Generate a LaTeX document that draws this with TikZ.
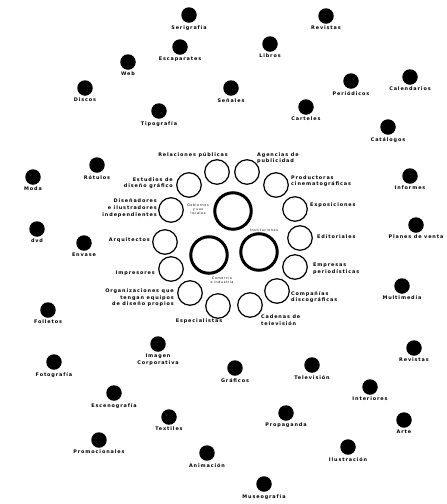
\documentclass[tikz,border=0pt]{standalone}
\usepackage{fontspec}
\setmainfont{DejaVu Sans}
\newfontfamily\lblfont[LetterSpace=18]{DejaVu Sans}
\begin{document}
\begin{tikzpicture}[x=1pt,y=-1pt,
  dot/.style={circle, fill=black, minimum size=15.5pt, inner sep=0pt},
  ring/.style={circle, draw=black, fill=white, line width=1.2pt, minimum size=24.5pt, inner sep=0pt},
  hub/.style={circle, draw=black, fill=white, line width=3pt, minimum size=36.5pt, inner sep=0pt},
  lbl/.style={font=\lblfont\bfseries\fontsize{4.9}{6.6}\selectfont, inner sep=0pt, align=center},
  lblr/.style={lbl, align=right, anchor=east},
  lbll/.style={lbl, align=left, anchor=west},
  tinylbl/.style={font=\lblfont\fontsize{3.3}{4}\selectfont, inner sep=0pt, align=center}]
\useasboundingbox (0,0) rectangle (447,504);
\fill[white] (0,0) rectangle (447,504);

% ---- central hubs
\node[hub] (gob) at (233,211) {};
\node[hub] (com) at (209,255) {};
\node[hub] (ins) at (259,252) {};
\node[tinylbl] (gobl) at (198,209) {Gobiernos\\y sus\\locales};
\node[tinylbl] (insl) at (264,230) {Instituciones};
\node[tinylbl] (coml) at (222,280) {Comercio\\e industria};

% ---- rings
\node[ring] (r1) at (217,172) {};
\node[ring] (r2) at (247,172) {};
\node[ring] (r3) at (276,185) {};
\node[ring] (r4) at (295,209) {};
\node[ring] (r5) at (300,238) {};
\node[ring] (r6) at (295,267) {};
\node[ring] (r7) at (277,291) {};
\node[ring] (r8) at (250,305) {};
\node[ring] (r9) at (218,306) {};
\node[ring] (r10) at (190,293) {};
\node[ring] (r11) at (171,269) {};
\node[ring] (r12) at (165,242) {};
\node[ring] (r13) at (171,210) {};
\node[ring] (r14) at (189,185) {};

\node[lbl] (r1l) at (193,155) {Relaciones públicas};
\node[lbll] (r2l) at (257,158) {Agencias de\\publicidad};
\node[lbll] (r3l) at (291,181) {Productoras\\cinematográficas};
\node[lbll] (r4l) at (310,205) {Exposiciones};
\node[lbll] (r5l) at (317,237) {Editoriales};
\node[lbll] (r6l) at (313,269) {Empresas\\periodísticas};
\node[lbll] (r7l) at (291,297) {Compañías\\discográficas};
\node[lbll] (r8l) at (261,320) {Cadenas de\\televisión};
\node[lbl] (r9l) at (199,321) {Especialistas};
\node[lblr] (r10l) at (174,298) {Organizaciones que\\tengan equipos\\de diseño propios};
\node[lblr] (r11l) at (155,273) {Impresores};
\node[lblr] (r12l) at (150,240) {Arquitectos};
\node[lblr] (r13l) at (157,208) {Diseñadores\\e ilustradores\\independientes};
\node[lblr] (r14l) at (173,183) {Estudios de\\diseño gráfico};

% ---- outer dots
\foreach \n/\x/\y/\t in {
  serigrafia/189/15/Serigrafía,
  escaparates/180/47/Escaparates,
  web/128/62/Web,
  discos/85/88/Discos,
  tipografia/159/111/Tipografía,
  rotulos/97/165/Rótulos,
  moda/33/177/Moda,
  dvd/37/229/dvd,
  envase/84/243/Envase,
  folletos/48/310/Folletos,
  revistasa/326/16/Revistas,
  libros/270/44/Libros,
  senales/231/88/Señales,
  periodicos/351/81/Periódicos,
  calendarios/410/77/Calendarios,
  carteles/306/107/Carteles,
  catalogos/388/127/Catálogos,
  informes/410/176/Informes,
  planes/416/225/Planes de venta,
  multimedia/402/286/Multimedia,
  fotografia/54/362/Fotografía,
  escenografia/114/393/Escenografía,
  textiles/169/417/Textiles,
  promocionales/99/440/Promocionales,
  animacion/207/453/Animación,
  graficos/235/368/Gráficos,
  television/312/365/Televisión,
  revistasb/414/348/Revistas,
  interiores/370/387/Interiores,
  propaganda/286/413/Propaganda,
  arte/404/420/Arte,
  ilustracion/348/447/Ilustración,
  museografia/264/484/Museografía}{
  \node[dot] (\n) at (\x,\y) {};
  \node[lbl, anchor=north] (\n-l) at (\x,\y+10) {\t};
}
\node[dot] (imagen) at (158,344) {};
\node[lbl, anchor=north] (imagen-l) at (158,354) {Imagen\\Corporativa};
\end{tikzpicture}
\end{document}
